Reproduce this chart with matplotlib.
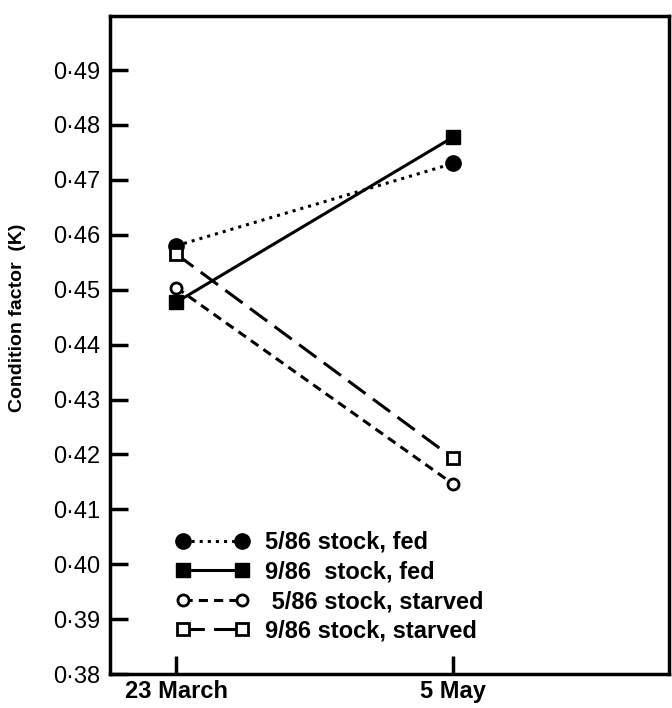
import numpy as np
import matplotlib.pyplot as plt

# dados
datas = ['23 March', '5 May']
fed_5_86 = [0.458, 0.473]
fed_9_86 = [0.4477, 0.4778]
starved_5_86 = [0.4504, 0.4146]
starved_9_86 = [0.4565, 0.4193]
yticks = [0.38, 0.39, 0.40, 0.41, 0.42, 0.43, 0.44, 0.45, 0.46, 0.47, 0.48, 0.49]
ytick_labels = ['0·38', '0·39', '0·40', '0·41', '0·42', '0·43', '0·44',
                '0·45', '0·46', '0·47', '0·48', '0·49']

fig = plt.figure(figsize=(6.72, 7.08), dpi=100)
ax = fig.add_axes([0.164, 0.048, 0.832, 0.929])

x = np.arange(len(datas))
ax.plot(x, fed_5_86, color='black', ls=':', lw=2.2, marker='o', ms=11,
        label='5/86 stock, fed')
ax.plot(x, fed_9_86, color='black', ls='-', lw=2.2, marker='s', ms=10,
        label='9/86  stock, fed')
ax.plot(x, starved_5_86, color='black', ls=(0, (3, 2)), lw=2.2, marker='o', ms=8,
        mfc='white', mew=2, label=' 5/86 stock, starved')
ax.plot(x, starved_9_86, color='black', ls=(0, (7, 3)), lw=2.2, marker='s', ms=8,
        mfc='white', mew=2, label='9/86 stock, starved')

ax.set_xlim(-0.238, 1.78)
ax.set_ylim(0.38, 0.4998)
ax.set_xticks(x)
ax.set_xticklabels(datas, fontsize=17, fontweight='bold', family='Liberation Sans')
ax.set_yticks(yticks)
ax.set_yticklabels(ytick_labels, fontsize=17, fontweight='medium',
                   family='Liberation Sans')
ax.tick_params(direction='in', length=13, width=2.5, pad=7)
ax.tick_params(axis='x', pad=4)
for s in ax.spines.values():
    s.set_linewidth(2.5)

ax.set_ylabel('Condition factor  (K)', fontsize=14, fontweight='bold',
              family='Liberation Sans')
ax.yaxis.set_label_coords(-0.15, 0.541)

ax.legend(loc='upper left', bbox_to_anchor=(0.08, 0.25), frameon=False,
          numpoints=2, handlelength=3.1, handletextpad=0.65, labelspacing=0.28,
          prop={'family': 'Liberation Sans', 'weight': 'bold', 'size': 17})

plt.savefig('out.png', dpi=100)
